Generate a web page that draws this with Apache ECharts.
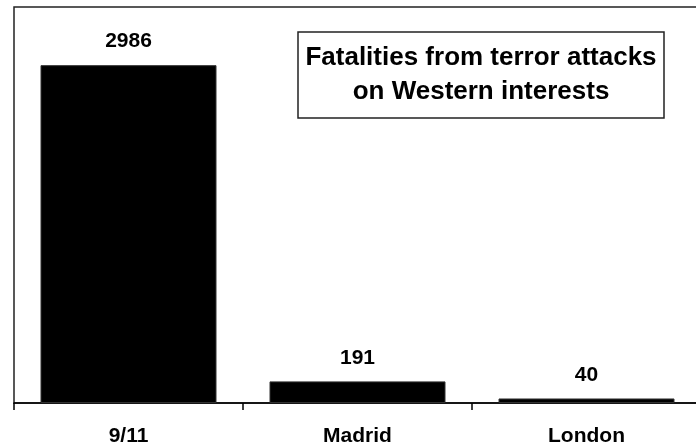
<!DOCTYPE html>
<html>
<head>
<meta charset="utf-8">
<script src="https://cdn.jsdelivr.net/npm/echarts@6/dist/echarts.min.js"></script>
<style>
  html, body { margin: 0; padding: 0; background: #fff; }
  #chart { width: 696px; height: 446px; }
</style>
</head>
<body>
<div id="chart"></div>
<script>
const categories = ['9/11', 'Madrid', 'London'];
const fatalities = [2986, 191, 40];
const titleText = 'Fatalities from terror attacks\non Western interests';

const FONT = '"Liberation Sans", Arial, sans-serif';

const chart = echarts.init(document.getElementById('chart'), null, { renderer: 'canvas' });

chart.setOption({
  backgroundColor: '#fff',
  animation: false,
  title: {
    text: titleText,
    left: 473,
    top: 32,
    textAlign: 'center',
    padding: [9, 8, 9, 8],
    borderColor: '#222',
    borderWidth: 1.5,
    textStyle: {
      fontFamily: FONT,
      fontSize: 26,
      fontWeight: 'bold',
      color: '#000',
      lineHeight: 34
    }
  },
  grid: {
    left: 14,
    top: 7,
    right: -5,
    bottom: 43,
    outerBoundsMode: 'none',
    show: true,
    borderColor: '#222',
    borderWidth: 1.5,
    backgroundColor: 'transparent'
  },
  xAxis: {
    type: 'category',
    data: categories,
    axisLine: { lineStyle: { color: '#000', width: 1.5 } },
    axisTick: { show: true, length: 7, interval: 0, lineStyle: { color: '#000', width: 1.5 } },
    axisLabel: {
      margin: 23,
      interval: 0,
      fontFamily: FONT,
      fontSize: 21,
      fontWeight: 'bold',
      color: '#000'
    }
  },
  yAxis: {
    type: 'value',
    min: 0,
    max: 3500,
    show: false,
    splitLine: { show: false }
  },
  series: [
    {
      type: 'bar',
      data: fatalities,
      barWidth: 176,
      itemStyle: { color: '#000', borderColor: '#333', borderWidth: 1 },
      label: {
        show: true,
        position: 'top',
        distance: 13,
        fontFamily: FONT,
        fontSize: 21,
        fontWeight: 'bold',
        color: '#000'
      }
    }
  ]
});
</script>
</body>
</html>
